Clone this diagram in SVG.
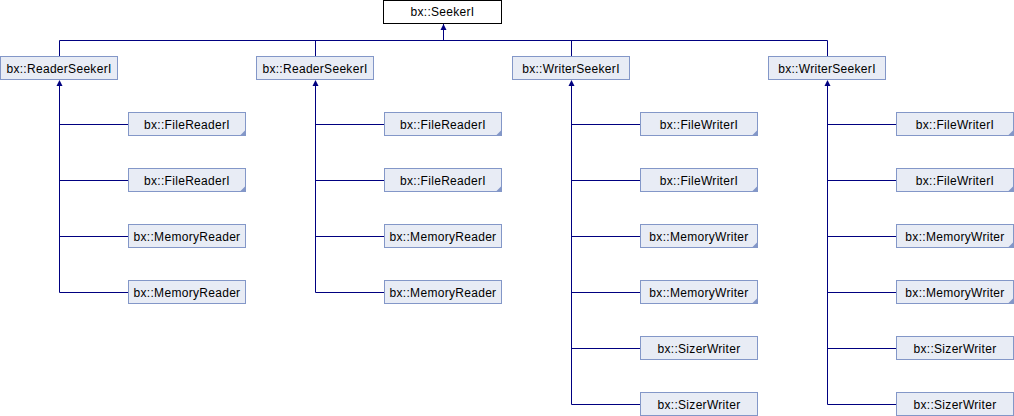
<svg xmlns="http://www.w3.org/2000/svg" width="1014" height="416" viewBox="0 0 1014 416">
<defs>
<style>
.box{fill:#E8ECF5;stroke:#8397C8;stroke-width:1}
.root{fill:#FFFFFF;stroke:#000000;stroke-width:1}
.t{font-family:"Liberation Sans",Arial,sans-serif;font-size:12px;fill:#000000;text-anchor:middle;letter-spacing:0.3px}
.ln{stroke:#000080;stroke-width:1;fill:none}
.arr{fill:#000080}
.fold{fill:#8397C8}
</style>
<marker id="ah" viewBox="0 0 6 6" refX="3" refY="0" markerWidth="6" markerHeight="6" markerUnits="userSpaceOnUse" orient="auto-start-reverse">
<path d="M0,6 L3,0 L6,6 Z" fill="#000080"/>
</marker>
</defs>
<rect width="1014" height="416" fill="#FFFFFF"/>
<g id="connectors">
<path class="ln" d="M443.5,24 V40.5 M59.5,40.5 H827.5 M59.5,40.5 V56 M315.5,40.5 V56 M571.5,40.5 V56 M827.5,40.5 V56"/>
<path class="arr" d="M443.5,24 L446.5,30 L440.5,30 Z"/>
<path class="arr" d="M59.5,80 L62.5,86 L56.5,86 Z"/>
<path class="arr" d="M315.5,80 L318.5,86 L312.5,86 Z"/>
<path class="arr" d="M571.5,80 L574.5,86 L568.5,86 Z"/>
<path class="arr" d="M827.5,80 L830.5,86 L824.5,86 Z"/>
<path class="ln" d="M59.5,86 V292.5 M59.5,124.5 H128 M59.5,180.5 H128 M59.5,236.5 H128 M59.5,292.5 H128"/>
<path class="ln" d="M315.5,86 V292.5 M315.5,124.5 H384 M315.5,180.5 H384 M315.5,236.5 H384 M315.5,292.5 H384"/>
<path class="ln" d="M571.5,86 V404.5 M571.5,124.5 H640 M571.5,180.5 H640 M571.5,236.5 H640 M571.5,292.5 H640 M571.5,348.5 H640 M571.5,404.5 H640"/>
<path class="ln" d="M827.5,86 V404.5 M827.5,124.5 H896 M827.5,180.5 H896 M827.5,236.5 H896 M827.5,292.5 H896 M827.5,348.5 H896 M827.5,404.5 H896"/>
</g>
<g id="seeker"><rect class="root" x="383.5" y="0.5" width="118" height="23"/><text class="t" x="442.5" y="16">bx::SeekerI</text></g>
<g id="readerSeeker1"><rect class="box" x="0.5" y="56.5" width="117" height="23"/><text class="t" x="59" y="72.5">bx::ReaderSeekerI</text></g>
<g id="readerSeeker2"><rect class="box" x="256.5" y="56.5" width="117" height="23"/><text class="t" x="315" y="72.5">bx::ReaderSeekerI</text></g>
<g id="writerSeeker1"><rect class="box" x="512.5" y="56.5" width="117" height="23"/><text class="t" x="571" y="72.5">bx::WriterSeekerI</text></g>
<g id="writerSeeker2"><rect class="box" x="768.5" y="56.5" width="117" height="23"/><text class="t" x="827" y="72.5">bx::WriterSeekerI</text></g>

<g id="c1r1"><rect class="box" x="128.5" y="112.5" width="117" height="23"/><path class="fold" d="M245.5,130 V135.5 H240 Z"/><text class="t" x="187" y="128.5">bx::FileReaderI</text></g>
<g id="c1r2"><rect class="box" x="128.5" y="168.5" width="117" height="23"/><path class="fold" d="M245.5,186 V191.5 H240 Z"/><text class="t" x="187" y="184.5">bx::FileReaderI</text></g>
<g id="c1r3"><rect class="box" x="128.5" y="224.5" width="117" height="23"/><text class="t" x="187" y="240.5">bx::MemoryReader</text></g>
<g id="c1r4"><rect class="box" x="128.5" y="280.5" width="117" height="23"/><text class="t" x="187" y="296.5">bx::MemoryReader</text></g>

<g id="c2r1"><rect class="box" x="384.5" y="112.5" width="117" height="23"/><path class="fold" d="M501.5,130 V135.5 H496 Z"/><text class="t" x="443" y="128.5">bx::FileReaderI</text></g>
<g id="c2r2"><rect class="box" x="384.5" y="168.5" width="117" height="23"/><path class="fold" d="M501.5,186 V191.5 H496 Z"/><text class="t" x="443" y="184.5">bx::FileReaderI</text></g>
<g id="c2r3"><rect class="box" x="384.5" y="224.5" width="117" height="23"/><text class="t" x="443" y="240.5">bx::MemoryReader</text></g>
<g id="c2r4"><rect class="box" x="384.5" y="280.5" width="117" height="23"/><text class="t" x="443" y="296.5">bx::MemoryReader</text></g>

<g id="c3r1"><rect class="box" x="640.5" y="112.5" width="117" height="23"/><path class="fold" d="M757.5,130 V135.5 H752 Z"/><text class="t" x="699" y="128.5">bx::FileWriterI</text></g>
<g id="c3r2"><rect class="box" x="640.5" y="168.5" width="117" height="23"/><path class="fold" d="M757.5,186 V191.5 H752 Z"/><text class="t" x="699" y="184.5">bx::FileWriterI</text></g>
<g id="c3r3"><rect class="box" x="640.5" y="224.5" width="117" height="23"/><path class="fold" d="M757.5,242 V247.5 H752 Z"/><text class="t" x="699" y="240.5">bx::MemoryWriter</text></g>
<g id="c3r4"><rect class="box" x="640.5" y="280.5" width="117" height="23"/><path class="fold" d="M757.5,298 V303.5 H752 Z"/><text class="t" x="699" y="296.5">bx::MemoryWriter</text></g>
<g id="c3r5"><rect class="box" x="640.5" y="336.5" width="117" height="23"/><text class="t" x="699" y="352.5">bx::SizerWriter</text></g>
<g id="c3r6"><rect class="box" x="640.5" y="392.5" width="117" height="23"/><text class="t" x="699" y="408.5">bx::SizerWriter</text></g>

<g id="c4r1"><rect class="box" x="896.5" y="112.5" width="117" height="23"/><path class="fold" d="M1013.5,130 V135.5 H1008 Z"/><text class="t" x="955" y="128.5">bx::FileWriterI</text></g>
<g id="c4r2"><rect class="box" x="896.5" y="168.5" width="117" height="23"/><path class="fold" d="M1013.5,186 V191.5 H1008 Z"/><text class="t" x="955" y="184.5">bx::FileWriterI</text></g>
<g id="c4r3"><rect class="box" x="896.5" y="224.5" width="117" height="23"/><path class="fold" d="M1013.5,242 V247.5 H1008 Z"/><text class="t" x="955" y="240.5">bx::MemoryWriter</text></g>
<g id="c4r4"><rect class="box" x="896.5" y="280.5" width="117" height="23"/><path class="fold" d="M1013.5,298 V303.5 H1008 Z"/><text class="t" x="955" y="296.5">bx::MemoryWriter</text></g>
<g id="c4r5"><rect class="box" x="896.5" y="336.5" width="117" height="23"/><text class="t" x="955" y="352.5">bx::SizerWriter</text></g>
<g id="c4r6"><rect class="box" x="896.5" y="392.5" width="117" height="23"/><text class="t" x="955" y="408.5">bx::SizerWriter</text></g>
</svg>
